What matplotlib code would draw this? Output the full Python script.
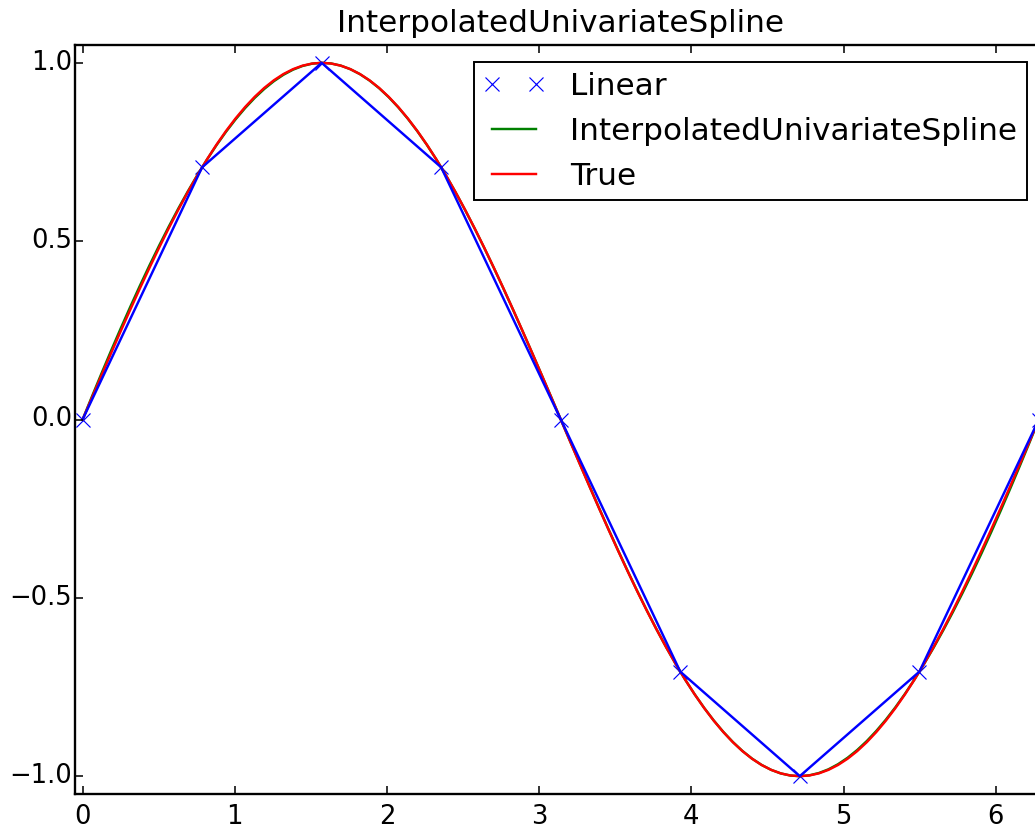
import numpy as np
import matplotlib
matplotlib.use("Agg")
import matplotlib.pyplot as plt

# Sample points
x_pts = [0.0, 0.785, 1.571, 2.356, 3.142, 3.927, 4.712, 5.498, 6.283]
y_pts = [0.0, 0.707, 1.0, 0.707, 0.0, -0.707, -1.0, -0.707, 0.0]
legend_labels = ["Linear", "InterpolatedUnivariateSpline", "True"]
title = "InterpolatedUnivariateSpline"


def notaknot_spline(x, y, xq):
    x = np.asarray(x, float)
    y = np.asarray(y, float)
    n = len(x)
    h = np.diff(x)
    A = np.zeros((n, n))
    b = np.zeros(n)
    A[0, 0] = h[1]
    A[0, 1] = -(h[0] + h[1])
    A[0, 2] = h[0]
    A[-1, -3] = h[-1]
    A[-1, -2] = -(h[-2] + h[-1])
    A[-1, -1] = h[-2]
    for i in range(1, n - 1):
        A[i, i - 1] = h[i - 1]
        A[i, i] = 2 * (h[i - 1] + h[i])
        A[i, i + 1] = h[i]
        b[i] = 6 * ((y[i + 1] - y[i]) / h[i] - (y[i] - y[i - 1]) / h[i - 1])
    M = np.linalg.solve(A, b)
    xq = np.asarray(xq, float)
    idx = np.clip(np.searchsorted(x, xq) - 1, 0, n - 2)
    x0, x1 = x[idx], x[idx + 1]
    hh = x1 - x0
    t0 = x1 - xq
    t1 = xq - x0
    return (M[idx] * t0**3 / (6 * hh) + M[idx + 1] * t1**3 / (6 * hh)
            + (y[idx] / hh - M[idx] * hh / 6) * t0
            + (y[idx + 1] / hh - M[idx + 1] * hh / 6) * t1)


xnew = np.arange(0, 2 * np.pi + np.pi / 4, np.pi / 50)
ynew = notaknot_spline(x_pts, y_pts, xnew)
ytrue = np.sin(xnew)

plt.style.use("classic")
dpi = 140
fig = plt.figure(figsize=(1035 / dpi, 825 / dpi), dpi=dpi, facecolor="white")
ax = fig.add_axes([75 / 1035, 31 / 825, 971 / 1035, 749 / 825])

lw = 1.25
l1, = ax.plot(x_pts, y_pts, "x", color="b", markersize=7, markeredgewidth=0.6)
l2, = ax.plot(xnew, ynew, color="g", lw=lw)
l3, = ax.plot(xnew, ytrue, color="r", lw=lw)
ax.plot(x_pts, y_pts, color="b", lw=lw)

ax.set_xlim(-0.05, 6.33)
ax.set_ylim(-1.05, 1.05)
ax.set_xticks([0, 1, 2, 3, 4, 5, 6])
ax.set_yticks([-1.0, -0.5, 0.0, 0.5, 1.0])
ax.tick_params(labelsize=13.3, width=0.8)
ax.tick_params(axis="y", pad=1.5)
ax.tick_params(axis="x", pad=5)
ax.set_title(title, fontsize=16, y=1.005)
for s in ax.spines.values():
    s.set_linewidth(1.2)

leg = ax.legend([l1, l2, l3], legend_labels, loc="upper right",
                bbox_to_anchor=(0.980, 0.977), borderaxespad=0.0,
                numpoints=2, fancybox=False, fontsize=16,
                labelspacing=0.52, handlelength=2.0, handletextpad=0.8,
                borderpad=0.3)
leg.get_frame().set_edgecolor("black")
leg.get_frame().set_linewidth(1.0)

fig.savefig("out.png", dpi=dpi, facecolor="white")
